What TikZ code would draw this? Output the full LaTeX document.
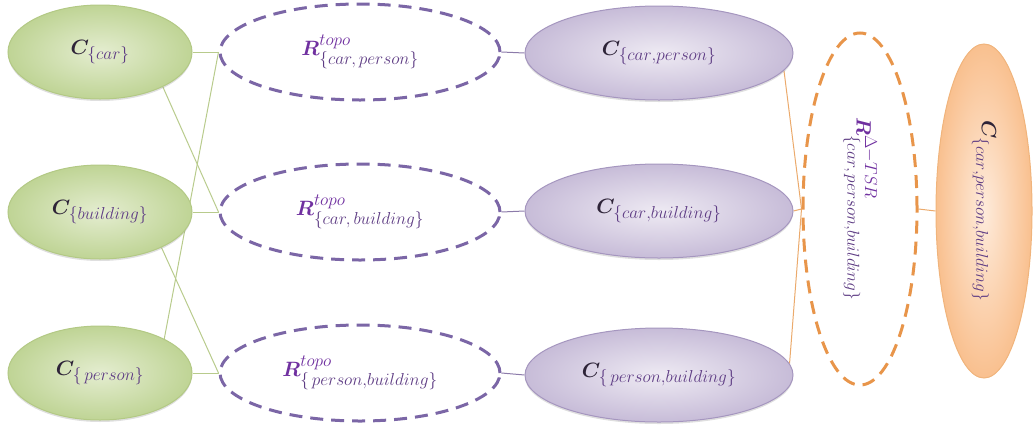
\documentclass[tikz,border=0pt]{standalone}
\usepackage{amsmath,bm}
\usetikzlibrary{shapes.geometric,backgrounds,shadows}
\DeclareMathSizes{22}{22}{16}{12}
\definecolor{gin}{HTML}{E4EDD0}
\definecolor{gout}{HTML}{BFD495}
\definecolor{gedge}{HTML}{B3C985}
\definecolor{gline}{HTML}{B8CB8C}
\definecolor{pin}{HTML}{EEEAF3}
\definecolor{pout}{HTML}{C7BCD8}
\definecolor{pedge}{HTML}{A596BF}
\definecolor{pline}{HTML}{8C7BAA}
\definecolor{pdash}{HTML}{7B66A6}
\definecolor{oin}{HTML}{FEEBDB}
\definecolor{oout}{HTML}{F9C08F}
\definecolor{oedge}{HTML}{F0B47C}
\definecolor{oline}{HTML}{EBAA6C}
\definecolor{odash}{HTML}{E8954A}
\definecolor{txtc}{HTML}{2E2438}
\definecolor{txtp}{HTML}{5E3C84}
\definecolor{txtr}{HTML}{7030A0}
\newcommand{\cl}[1]{$\color{txtc}\bm{C}_{\color{txtp}\{#1\}}$}
\newcommand{\rl}[2]{$\color{txtr}\bm{R}^{#1}_{\color{txtp}\{#2\}}$}
\tikzset{
  lbl/.style={font=\fontsize{22}{26}\selectfont, inner sep=0pt},
  ell/.style={ellipse, inner sep=0pt, lbl},
  gell/.style={ell, shading=radial, inner color=gin, outer color=gout, draw=gedge, line width=1pt,
     drop shadow={shadow xshift=0pt, shadow yshift=-2pt, opacity=0.25},
     minimum width=184pt, minimum height=94pt},
  rell/.style={ell, draw=pdash, line width=3pt, dash pattern=on 13pt off 8pt, fill=white,
     minimum width=280pt, minimum height=96pt},
  pell/.style={ell, shading=radial, inner color=pin, outer color=pout, draw=pedge, line width=1pt,
     drop shadow={shadow xshift=0pt, shadow yshift=-2pt, opacity=0.25},
     minimum width=268pt, minimum height=94pt},
  gcon/.style={draw=gline, line width=1pt},
  pcon/.style={draw=pline, line width=1pt},
  ocon/.style={draw=oline, line width=1pt},
}
\begin{document}
\begin{tikzpicture}[x=1pt,y=-1pt]
\useasboundingbox (0,0) rectangle (1035,426);
% green
\node[gell] (ccar) at (100,52) {\cl{car}};
\node[gell] (cbui) at (100,212) {\cl{building}};
\node[gell] (cper) at (100,373) {\cl{\,person}};
% relations
\node[rell] (r1) at (360,52) {\rl{topo}{car,\,person}};
\node[rell] (r2) at (360,212) {\rl{topo}{car,\,building}};
\node[rell] (r3) at (360,373) {\rl{topo}{\,person{,}building}};
% purple
\node[pell] (cp) at (659,53) {\cl{car{,}person}};
\node[pell] (cb) at (659,211) {\cl{car{,}building}};
\node[pell] (pb) at (659,375) {\cl{\,person{,}building}};
% orange dashed
\node[ell, draw=odash, line width=3pt, dash pattern=on 13pt off 8pt, fill=white,
      minimum width=114pt, minimum height=352pt] (tsr) at (860,209) {};
\node[lbl, rotate=-90] (tsrl) at (tsr.center) {$\color{txtr}\bm{R}^{\Delta-TSR}_{\color{txtp}\{car,\,person{,}building\}}$};
% orange final
\node[ell, shading=radial, inner color=oin, outer color=oout, draw=oedge, line width=1pt,
      minimum width=96pt, minimum height=334pt] (fin) at (984,211) {};
\node[lbl, rotate=-90] (finl) at (fin.center) {\cl{car{,}person{,}building}};
% connectors
\begin{scope}[on background layer]
\draw[gcon] (ccar.east) -- (r1.west);
\draw[gcon] (ccar.-29) -- (r2.west);
\draw[gcon] (cbui.east) -- (r2.west);
\draw[gcon] (r1.west) -- (cper.28);
\draw[gcon] (cbui.-30) -- (r3.west);
\draw[gcon] (cper.east) -- (r3.west);
\draw[pcon] (r1.east) -- (cp.west);
\draw[pcon] (r2.east) -- (cb.west);
\draw[pcon] (r3.east) -- (pb.west);
\draw[ocon] (cp.-8) -- (tsr.west);
\draw[ocon] (cb.east) -- (tsr.west);
\draw[ocon] (pb.5) -- (tsr.west);
\draw[ocon] (tsr.east) -- (fin.west);
\end{scope}
\end{tikzpicture}
\end{document}
